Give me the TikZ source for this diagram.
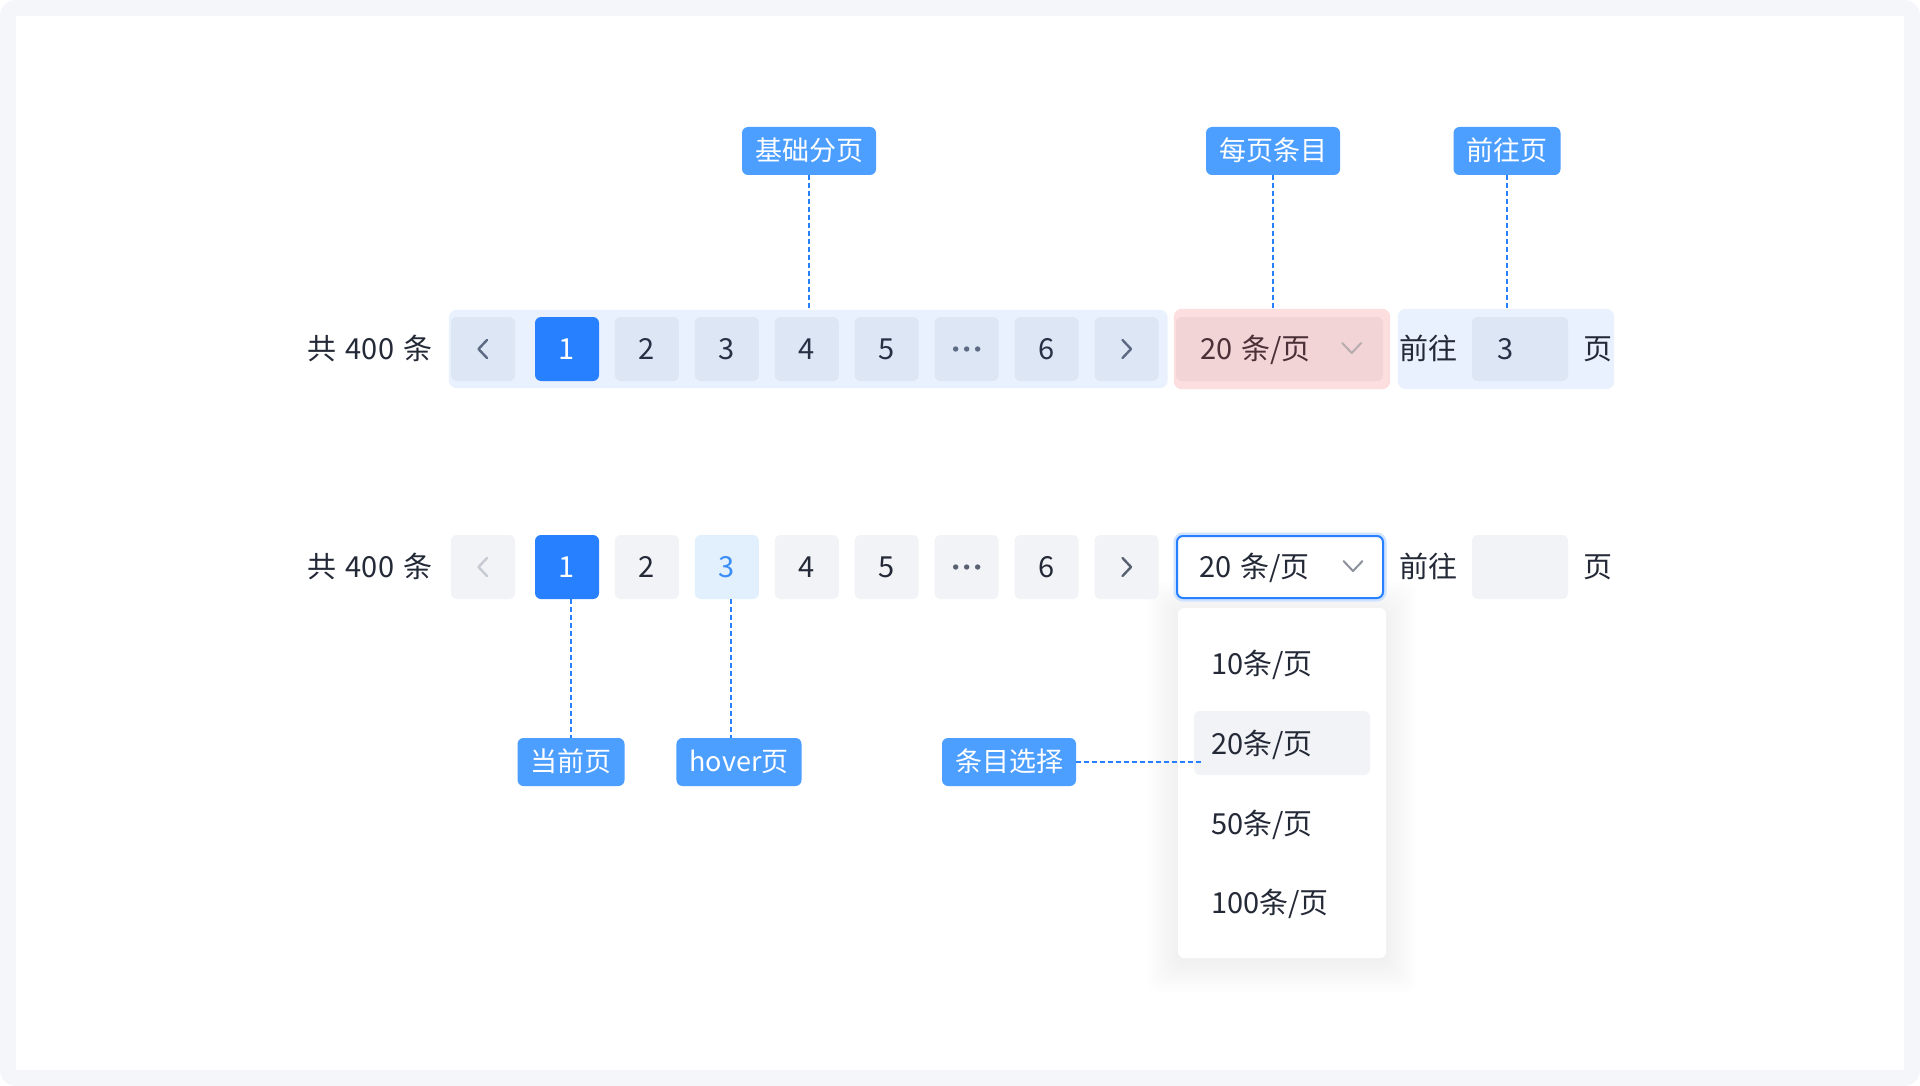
\documentclass[tikz,border=0pt]{standalone}
\usepackage{fontspec}
\setmainfont{Noto Sans CJK SC}
\usepackage{tikz}
\usetikzlibrary{positioning,fit,calc,backgrounds}
\definecolor{pagegray}{HTML}{F5F6FA}
\definecolor{tagblue}{HTML}{4C9EFF}
\definecolor{activeblue}{HTML}{2680FF}
\definecolor{inkdark}{HTML}{232936}
\definecolor{inknavy}{HTML}{283046}
\definecolor{btngray}{HTML}{F2F3F7}
\definecolor{hoverfill}{HTML}{E1F0FC}
\definecolor{hoverink}{HTML}{3A8DF5}
\definecolor{markblue}{HTML}{E9F1FE}
\definecolor{markbtn}{HTML}{DCE6F4}
\definecolor{markpink}{HTML}{FDDEDE}
\definecolor{markrose}{HTML}{F2D4D7}
\definecolor{roseink}{HTML}{4B3038}
\definecolor{chevnavy}{HTML}{5C6A83}
\definecolor{chevgray}{HTML}{596171}
\definecolor{offgray}{HTML}{C6CAD2}
\definecolor{glowblue}{HTML}{CFE2FF}

\begin{document}
\begin{tikzpicture}[x=1pt,y=-1pt,
    every node/.style={font=\fontsize{29}{34}\selectfont,text=inkdark,inner sep=0pt,text height=22.6pt,text depth=1.2pt},
    pgbtn/.style={rounded corners=6pt,minimum width=64pt,minimum height=64pt},
    tag/.style={rounded corners=6pt,fill=tagblue,text=white,font=\fontsize{27}{32}\selectfont,text height=21pt,text depth=1.1pt,minimum height=48pt,inner xsep=13pt},
    guide/.style={activeblue,line width=1.4pt,dash pattern=on 5pt off 3pt},
    chev/.style={line width=2.4pt,line cap=round,line join=round},
    markbox/.style={inner sep=0pt,rounded corners=8pt}]
  % page
  \begin{scope}[on background layer]
    \fill[pagegray,rounded corners=16pt] (0,0) rectangle (1920,1086);
    \fill[white] (16,16) rectangle (1904,1070);
  \end{scope}
  % annotated row
  \node (sum1) at (370,349) {共\hspace{9.5pt}400\hspace{9.5pt}条};
  \foreach \t/\f/\c [count=\i from 0] in {/markbtn/inknavy,1/activeblue/white,2/markbtn/inknavy,3/markbtn/inknavy,4/markbtn/inknavy,5/markbtn/inknavy,/markbtn/inknavy,6/markbtn/inknavy,/markbtn/inknavy}
    \node[pgbtn,fill=\f,text=\c] (a\i) at ({ifthenelse(\i==0,483,567+79.93*(\i-1))},349) {\t};
  \node[pgbtn,fill=markrose,minimum width=207pt] (sel1) at (1279.5,349) {};
  \node[anchor=west,text=roseink] (sel1txt) at ([xshift=24pt]sel1.west) {20\hspace{9pt}条/页};
  \coordinate (v1) at ([xshift=-31.5pt,yshift=1pt]sel1.east);
  \node (go1) at (1428,349) {前往};
  \node[pgbtn,fill=markbtn,minimum width=96pt] (in1) at (1520,349) {};
  \node[anchor=west,text=inknavy] (in1txt) at ([xshift=25pt]in1.west) {3};
  \node (pg1) at (1597.5,349) {页};
  \coordinate (m1a) at ([xshift=-2pt,yshift=7pt]a0.north west);
  \coordinate (m1b) at ([xshift=9pt,yshift=-7pt]a8.south east);
  \coordinate (m2a) at ([xshift=-2pt,yshift=8pt]sel1.north west);
  \coordinate (m2b) at ([xshift=7pt,yshift=-8pt]sel1.south east);
  \coordinate (m3a) at ([xshift=-74pt,yshift=8pt]in1.north west);
  \coordinate (m3b) at ([xshift=46pt,yshift=-8pt]in1.south east);
  \begin{scope}[on background layer]
    \node[markbox,fill=markblue,fit=(m1a)(m1b)] (mark1) {};
    \node[markbox,fill=markpink,fit=(m2a)(m2b)] (mark2) {};
    \node[markbox,fill=markblue,fit=(m3a)(m3b)] (mark3) {};
  \end{scope}
  % tags above
  \node[tag] (t1) at (809,151) {基础分页};
  \node[tag] (t2) at (1273,151) {每页条目};
  \node[tag] (t3) at (1507,151) {前往页};
  \foreach \t/\m in {t1/mark1,t2/mark2,t3/mark3} {\draw[guide] (\t.south) -- (\t.south |- \m.north);}
  % plain row
  \node (sum2) at (370,567) {共\hspace{9.5pt}400\hspace{9.5pt}条};
  \foreach \t/\f/\c [count=\i from 0] in {/btngray/inkdark,1/activeblue/white,2/btngray/inkdark,3/hoverfill/hoverink,4/btngray/inkdark,5/btngray/inkdark,/btngray/inkdark,6/btngray/inkdark,/btngray/inkdark}
    \node[pgbtn,fill=\f,text=\c] (b\i) at ({ifthenelse(\i==0,483,567+79.93*(\i-1))},567) {\t};
  \node[pgbtn,fill=white,draw=activeblue,line width=2pt,minimum width=206pt,minimum height=62pt,preaction={draw=glowblue,line width=7pt}] (sel2) at (1280,567) {};
  \node[anchor=west] (sel2txt) at ([xshift=23pt]sel2.west) {20\hspace{9pt}条/页};
  \coordinate (v2) at ([xshift=-31pt,yshift=1pt]sel2.east);
  \node (go2) at (1428,567) {前往};
  \node[pgbtn,fill=btngray,minimum width=96pt] (in2) at (1520,567) {};
  \node (pg2) at (1597.5,567) {页};
  % chevrons and dots
  \foreach \r/\c in {a0/chevnavy,b0/offgray} \draw[chev,color=\c] ([xshift=4pt,yshift=9pt]\r.center) -- ([xshift=-4.5pt]\r.center) -- ([xshift=4pt,yshift=-9pt]\r.center);
  \foreach \r/\c in {a8/chevnavy,b8/chevgray} \draw[chev,color=\c] ([xshift=-4pt,yshift=9pt]\r.center) -- ([xshift=4.5pt]\r.center) -- ([xshift=-4pt,yshift=-9pt]\r.center);
  \foreach \r/\c in {a6/chevnavy,b6/chevgray} \foreach \d in {-11,0,11} \fill[color=\c] ([xshift=\d*1pt]\r.center) circle (2.7pt);
  \draw[chev,line width=2pt,color=roseink!40] ([xshift=-9.5pt,yshift=5pt]v1) -- ([yshift=-5pt]v1) -- ([xshift=9.5pt,yshift=5pt]v1);
  \draw[chev,line width=2pt,color=chevgray!70] ([xshift=-9.5pt,yshift=5pt]v2) -- ([yshift=-5pt]v2) -- ([xshift=9.5pt,yshift=5pt]v2);
  % dropdown
  \node[fill=white,rounded corners=6pt,minimum width=208pt,minimum height=350pt] (menu) at (1282,783) {};
  \begin{scope}[on background layer]
    \foreach \k in {1,...,14}
      \fill[black,opacity=0.0045,rounded corners=12pt] ([xshift={-2.2pt*\k},yshift={2.2pt*\k-4pt}]menu.north west) rectangle ([xshift={2.2pt*\k},yshift={-2.2pt*\k-4pt}]menu.south east);
  \end{scope}
  \node[pgbtn,fill=btngray,minimum width=176pt] (hl) at (1282,743) {};
  \foreach \n [count=\i from 0] in {10,20,50,100}
    \node[anchor=west] (it\i) at (1211,{664+79.7*\i}) {{\n}条/页};
  % tags below
  \node[tag] (cur) at (571,762) {当前页};
  \node[tag] (hov) at (739,762) {hover页};
  \node[tag] (pick) at (1009,762) {条目选择};
  \coordinate (bx1) at ([xshift=4pt]b1.south);
  \coordinate (bx3) at ([xshift=4pt]b3.south);
  \coordinate (hx) at ([xshift=8pt]hl.west);
  \draw[guide] (bx1) -- (bx1 |- cur.north);
  \draw[guide] (bx3) -- (bx3 |- hov.north);
  \draw[guide] (pick.east) -- (hx |- pick.east);
\end{tikzpicture}
\end{document}
